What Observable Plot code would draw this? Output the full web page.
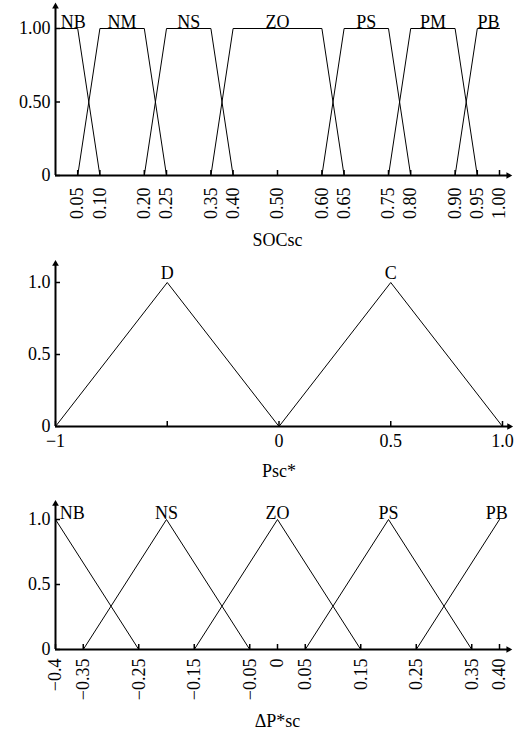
<!DOCTYPE html>
<html><head><meta charset="utf-8">
<script src="https://cdn.jsdelivr.net/npm/d3@7"></script>
<script src="https://cdn.jsdelivr.net/npm/@observablehq/plot@0.6"></script>
<style>body{margin:0;background:#fff;} svg{display:block;}</style>
</head><body><div id="c"></div>
<script>
// Panel 1: SOCsc
const socNames = ["NB","NM","NS","ZO","PS","PM","PB"];
const socX = [[0,0.05,0.10],[0.05,0.10,0.20,0.25],[0.20,0.25,0.35,0.40],[0.35,0.40,0.60,0.65],[0.60,0.65,0.75,0.80],[0.75,0.80,0.90,0.95],[0.90,0.95,1.00]];
const socY = [[1,1,0],[0,1,1,0],[0,1,1,0],[0,1,1,0],[0,1,1,0],[0,1,1,0],[0,1,1]];
const socLabelX = [0.04,0.15,0.30,0.50,0.70,0.85,0.975];
const socTicks = [0.05,0.10,0.20,0.25,0.35,0.40,0.50,0.60,0.65,0.75,0.80,0.90,0.95,1.00];
const socTickLabels = ["0.05","0.10","0.20","0.25","0.35","0.40","0.50","0.60","0.65","0.75","0.80","0.90","0.95","1.00"];
const socYTicks = [0,0.5,1];
const socYLabels = ["0","0.50","1.00"];

// Panel 2: Psc*
const pscNames = ["D","C"];
const pscX = [[-1,-0.5,0],[0,0.5,1]];
const pscY = [[0,1,0],[0,1,0]];
const pscLabelX = [-0.5,0.5];
const pscTicks = [-1,-0.5,0,0.5,1];
const pscTickLabels = ["\u22121","","0","0.5","1.0"];
const pscYTicks = [0,0.5,1];
const pscYLabels = ["0","0.5","1.0"];

// Panel 3: ΔP*sc
const dpNames = ["NB","NS","ZO","PS","PB"];
const dpX = [[-0.4,-0.25],[-0.35,-0.2,-0.05],[-0.15,0,0.15],[0.05,0.2,0.35],[0.25,0.4]];
const dpY = [[1,0],[0,1,0],[0,1,0],[0,1,0],[0,1]];
const dpLabelX = [-0.37,-0.2,0,0.2,0.395];
const dpTicks = [-0.4,-0.35,-0.25,-0.15,-0.05,0,0.05,0.15,0.25,0.35,0.40];
const dpTickLabels = ["\u22120.4","\u22120.35","\u22120.25","\u22120.15","\u22120.05","0","0.05","0.15","0.25","0.35","0.40"];
const dpYTicks = [0,0.5,1];
const dpYLabels = ["0","0.5","1.0"];

const W = 529, ML = 55, TICK = 5;

function panel(c) {
  const rows = [];
  c.xs.forEach((xs, k) => xs.forEach((x, j) => rows.push({set: c.names[k], x, y: c.ys[k][j]})));
  const labels = c.names.map((n, k) => ({name: n, x: c.labelX[k], y: 1}));
  const x0 = c.domain[0];
  const frameH = c.height - c.mt - c.mb;
  const frameW = W - ML - c.mr;
  return Plot.plot({
    width: W, height: c.height,
    marginTop: c.mt, marginBottom: c.mb, marginLeft: ML, marginRight: c.mr,
    style: {fontFamily: "'Liberation Serif', 'Times New Roman', serif", fontSize: "18px", background: "#fff", color: "#000", overflow: "visible"},
    x: {domain: c.domain, label: null},
    y: {domain: [0, 1], label: null},
    marks: [
      Plot.line(rows, {x: "x", y: "y", z: "set", stroke: "#000", strokeWidth: 1}),
      Plot.tickX(c.ticks, {x: d => d, insetTop: frameH - TICK, stroke: "#000", strokeWidth: 1.5}),
      Plot.tickY(c.yTicks, {y: d => d, insetRight: frameW - TICK, stroke: "#000", strokeWidth: 1.5}),
      Plot.ruleY([0], {x1: x0, x2: c.xTip, stroke: "#000", strokeWidth: 2}),
      Plot.ruleX([x0], {y1: 0, y2: c.yTip, stroke: "#000", strokeWidth: 2}),
      Plot.dot([{x: c.xTip, y: 0}], {x: "x", y: "y", symbol: "triangle2", rotate: 90, r: 3.2, fill: "#000"}),
      Plot.dot([{x: x0, y: c.yTip}], {x: "x", y: "y", symbol: "triangle2", r: 3.2, fill: "#000"}),
      Plot.axisX({ticks: c.ticks, tickSize: 0, tickPadding: c.tp, tickRotate: c.rot, tickFormat: d => c.tickLabels[c.ticks.indexOf(d)], label: null}),
      Plot.axisY({ticks: c.yTicks, tickSize: 0, tickPadding: 5, tickFormat: d => c.yLabels[c.yTicks.indexOf(d)], label: null}),
      Plot.text(labels, {x: "x", y: "y", text: "name", lineAnchor: "bottom", dy: c.ldy}),
      Plot.text([c.title], {frameAnchor: "bottom", lineAnchor: "bottom", dy: c.tdy})
    ]
  });
}

const root = document.getElementById("c");
root.appendChild(panel({height: 250, mt: 28, mb: 75, mr: 30, domain: [0, 1], xTip: 1.02, yTip: 1.15,
  xs: socX, ys: socY, names: socNames, labelX: socLabelX, ldy: -1,
  ticks: socTicks, tickLabels: socTickLabels, tp: 12, rot: -90,
  yTicks: socYTicks, yLabels: socYLabels, title: "SOCsc", tdy: 70}));
root.appendChild(panel({height: 230, mt: 32, mb: 54, mr: 27, domain: [-1, 1], xTip: 1.03, yTip: 1.13,
  xs: pscX, ys: pscY, names: pscNames, labelX: pscLabelX, ldy: -4,
  ticks: pscTicks, tickLabels: pscTickLabels, tp: 8, rot: 0,
  yTicks: pscYTicks, yLabels: pscYLabels, title: "Psc*", tdy: 50}));
root.appendChild(panel({height: 251, mt: 39, mb: 82, mr: 30, domain: [-0.4, 0.4], xTip: 0.416, yTip: 1.12,
  xs: dpX, ys: dpY, names: dpNames, labelX: dpLabelX, ldy: -1,
  ticks: dpTicks, tickLabels: dpTickLabels, tp: 9, rot: -90,
  yTicks: dpYTicks, yLabels: dpYLabels, title: "\u0394P*sc", tdy: 77}));
</script></body></html>
